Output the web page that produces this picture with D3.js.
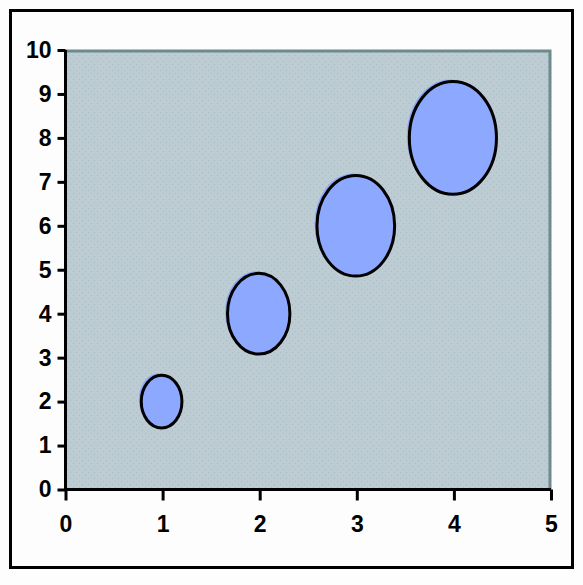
<!DOCTYPE html>
<html><head><meta charset="utf-8">
<script src="https://cdn.jsdelivr.net/npm/d3@7/dist/d3.min.js"></script>
<style>html,body{margin:0;padding:0;background:#fdfdfd;}svg{display:block;}</style>
</head><body>
<script>
const xValues = [1, 2, 3, 4];
const yValues = [2, 4, 6, 8];
const bubbleSizes = [1.7, 4, 6.2, 7.8];
const xTicks = [0, 1, 2, 3, 4, 5];
const yTicks = [0, 1, 2, 3, 4, 5, 6, 7, 8, 9, 10];

const W = 583, H = 585;
const svg = d3.select("body").append("svg").attr("width", W).attr("height", H);

const L = 65.5, R = 551, T = 50, B = 489.5;
const x = d3.scaleLinear().domain([0, 5]).range([L, R]);
const y = d3.scaleLinear().domain([0, 10]).range([B, T]);
const rx = d3.scaleSqrt().domain([0, 1]).range([0, 15.6]);
const ry = d3.scaleSqrt().domain([0, 1]).range([0, 20.2]);

// outer frame
svg.append("rect").attr("x", 10.5).attr("y", 10.5).attr("width", 562).attr("height", 557)
  .attr("fill", "#fdfdfd").attr("stroke", "#000").attr("stroke-width", 3);

// dotted pattern
const defs = svg.append("defs");
const pat = defs.append("pattern").attr("id", "dots").attr("width", 6).attr("height", 6)
  .attr("patternUnits", "userSpaceOnUse");
pat.append("rect").attr("width", 6).attr("height", 6).attr("fill", "#bdccd3");
pat.append("rect").attr("x", 1).attr("y", 1).attr("width", 1).attr("height", 1).attr("fill", "#a9bdc7");
pat.append("rect").attr("x", 4).attr("y", 4).attr("width", 1).attr("height", 1).attr("fill", "#a9bdc7");

// plot area
svg.append("rect").attr("x", L).attr("y", T).attr("width", R - L).attr("height", B - T)
  .attr("fill", "url(#dots)");
svg.append("path").attr("d", `M${L},${T + 1}H${R - 1}V${B}`)
  .attr("fill", "none").attr("stroke", "#6e8a8c").attr("stroke-width", 3);

// bubbles
const data = xValues.map((v, i) => ({x: v, y: yValues[i], s: bubbleSizes[i]}));
const g = svg.append("g");
g.selectAll("ellipse.shadow").data(data).join("ellipse").attr("class", "shadow")
  .attr("cx", d => x(d.x) - 3.5).attr("cy", d => y(d.y) - 2)
  .attr("rx", d => rx(d.s)).attr("ry", d => ry(d.s))
  .attr("fill", "#8ba8f8");
g.selectAll("ellipse.bub").data(data).join("ellipse").attr("class", "bub")
  .attr("cx", d => x(d.x) - 1).attr("cy", d => y(d.y))
  .attr("rx", d => rx(d.s)).attr("ry", d => ry(d.s))
  .attr("fill", "#8ca8ff").attr("stroke", "#000").attr("stroke-width", 3);

// axes
const font = "'Liberation Sans', Arial, sans-serif";
const yAxis = svg.append("g").attr("transform", `translate(${L},0)`)
  .call(d3.axisLeft(y).tickValues(yTicks).tickSize(8).tickPadding(6).tickFormat(d3.format("d")));
const xAxis = svg.append("g").attr("transform", `translate(0,${B})`)
  .call(d3.axisBottom(x).tickValues(xTicks).tickSize(11).tickPadding(15).tickFormat(d3.format("d")));
[yAxis, xAxis].forEach(a => {
  a.select(".domain").attr("stroke", "#000").attr("stroke-width", 3);
  a.selectAll(".tick line").attr("stroke", "#000").attr("stroke-width", 3);
  a.selectAll(".tick text").attr("fill", "#000").style("font-family", font)
    .style("font-size", "23px").style("font-weight", "bold");
});
yAxis.select(".domain").attr("d", `M0,${T}V${B}`);
xAxis.select(".domain").attr("d", `M${L - 1.5},0H${R}`);
</script>
</body></html>
